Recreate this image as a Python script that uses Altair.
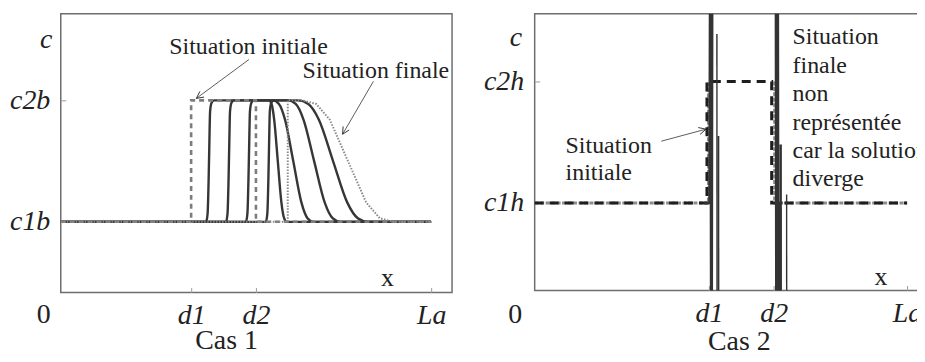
import altair as alt
import pandas as pd

FONT = "Liberation Serif"
INK = "#222222"

# ---------------- Cas 1 ----------------
c1_xtick_values = [0.352, 0.527, 1.0]
c1_xtick_labels = ["d1", "d2", "La"]
c1_ytick_values = [1.0, 2.0]
c1_ytick_labels = ["c1b", "c2b"]
c1_x_domain = [0.0, 1.0565]
c1_y_domain = [0.418, 2.713]

c1_init_x = [0.0, 0.352, 0.352, 0.527, 0.527, 1.0]
c1_init_y = [1.0, 1.0, 2.0, 2.0, 1.0, 1.0]

c1_curve_y = [1.0, 1.0, 1.07, 1.34, 1.66, 1.91, 1.98, 2.0, 2.0, 1.97, 1.84, 1.5, 1.16, 1.03, 1.0, 1.0]
c1_curve1_x = [0.0, 0.3925, 0.3965, 0.3992, 0.4013, 0.4032, 0.4073, 0.4140, 0.5618, 0.5691, 0.5763, 0.5860, 0.5957, 0.6030, 0.6102, 1.0]
c1_curve2_x = [0.0, 0.4462, 0.4503, 0.4530, 0.4551, 0.4570, 0.4610, 0.4677, 0.5726, 0.5891, 0.6056, 0.6277, 0.6497, 0.6662, 0.6828, 1.0]
c1_curve3_x = [0.0, 0.5000, 0.5040, 0.5067, 0.5089, 0.5108, 0.5148, 0.5215, 0.6129, 0.6343, 0.6556, 0.6841, 0.7126, 0.7340, 0.7554, 1.0]
c1_curve4_x = [0.0, 0.5538, 0.5578, 0.5605, 0.5626, 0.5645, 0.5685, 0.5753, 0.6398, 0.6684, 0.6970, 0.7352, 0.7734, 0.8020, 0.8306, 1.0]

c1_final_x = [0.0, 0.6129, 0.6129, 0.6532, 0.6899, 0.7266, 0.7755, 0.8245, 0.8612, 0.8978, 1.0]
c1_final_y = [1.0, 1.0, 2.0, 2.0, 1.97, 1.84, 1.5, 1.16, 1.03, 1.0, 1.0]

c1_text = ["Situation initiale", "Situation finale"]
c1_text_x = [0.293, 0.653]
c1_text_y = [2.443, 2.238]

c1_arrow_x1 = [0.508, 0.844]
c1_arrow_y1 = [2.336, 2.156]
c1_arrow_x2 = [0.366, 0.761]
c1_arrow_y2 = [2.016, 1.721]
c1_arrow_angle = [143.7, 120.3]

c1_axis_letter = ["x"]
c1_axis_letter_x = [0.882]
c1_axis_letter_y = [0.541]
c1_origin = ["0"]
c1_origin_x = [-0.0457]
c1_origin_y = [0.164]

# ---------------- Cas 2 ----------------
c2_xtick_values = [0.468, 0.642, 1.0]
c2_xtick_labels = ["d1", "d2", "La"]
c2_ytick_values = [1.0, 2.0]
c2_ytick_labels = ["c1h", "c2h"]
c2_x_domain = [0.0, 1.048]
c2_y_domain = [0.279, 2.557]

c2_init_x = [0.0, 0.4626, 0.4626, 0.6364, 0.6364, 1.0]
c2_init_y = [1.0, 1.0, 2.0, 2.0, 1.0, 1.0]

c2_gray1_x = [0.0, 0.4666, 0.4666]
c2_gray1_y = [1.0, 1.0, 2.0]
c2_gray2_x = [0.6444, 0.6444, 1.0]
c2_gray2_y = [2.0, 1.0, 1.0]

c2_spike1_x = [0.455, 0.4693, 0.4720, 0.4746, 0.4773, 0.6471, 0.6497, 0.6524, 0.6551, 0.6578, 0.665]
c2_spike1_y = [1.0, 1.0, 4.0, -2.0, 4.0, 4.0, -2.0, 4.0, -2.0, 1.0, 1.0]
c2_spike2_x = [0.4893, 0.4900]
c2_spike2_y = [2.39, -2.0]
c2_spike3_x = [0.4933, 0.4940]
c2_spike3_y = [1.55, -2.0]
c2_spike4_x = [0.6604, 0.6612]
c2_spike4_y = [1.48, -2.0]
c2_spike5_x = [0.6765, 0.6772]
c2_spike5_y = [1.07, -2.0]
c2_spike_widths = [2.5, 1.4, 1.8, 2.5, 1.4]

c2_text = ["Situation", "initiale"]
c2_text_x = [0.083, 0.083]
c2_text_y = [1.467, 1.246]

c2_note = ["Situation", "finale", "non", "représentée", "car la solution", "diverge"]
c2_note_x = [0.6925] * 6
c2_note_y = [2.369, 2.123, 1.893, 1.656, 1.426, 1.197]

c2_arrow_x1 = [0.340]
c2_arrow_y1 = [1.508]
c2_arrow_x2 = [0.460]
c2_arrow_y2 = [1.607]
c2_arrow_angle = [345.1]

c2_axis_letter = ["x"]
c2_axis_letter_x = [0.930]
c2_axis_letter_y = [0.393]
c2_origin = ["0"]
c2_origin_x = [-0.052]
c2_origin_y = [0.008]

ARROW_PATH = "M-1,-0.5L0,0L-1,0.5"


def label_expr(values, labels):
    expr = "''"
    for v, l in reversed(list(zip(values, labels))):
        expr = f"abs(datum.value - {v}) < 1e-6 ? '{l}' : {expr}"
    return expr


def lines_df(series):
    rows = []
    for name, xs, ys, w in series:
        for i, (x, y) in enumerate(zip(xs, ys)):
            rows.append({"s": name, "i": i, "x": x, "y": y, "w": w})
    return pd.DataFrame(rows)


def panel(xvals, xlabels, yvals, ylabels, xdom, ydom, cas, cas_x, cas_y,
          ypad, c_x, c_y):
    xaxis = alt.Axis(
        values=xvals, labelExpr=label_expr(xvals, xlabels),
        labelFont=FONT, labelFontSize=28, labelFontStyle="italic",
        labelColor=INK, labelBaseline="alphabetic", labelPadding=36,
        labelAngle=0, ticks=True, tickSize={"expr": "-5"}, tickColor="#9a9a9a",
        tickWidth=1, domain=False, grid=False,
        title=cas, titleFont=FONT, titleFontSize=28, titleFontWeight="normal",
        titleColor=INK, titleX=cas_x, titleY=cas_y, titleAlign="center",
        titleBaseline="alphabetic",
    )
    yaxis = alt.Axis(
        values=yvals, labelExpr=label_expr(yvals, ylabels),
        labelFont=FONT, labelFontSize=28, labelFontStyle="italic",
        labelColor=INK, labelPadding=ypad, labelBaseline="middle",
        ticks=True, tickSize={"expr": "-5"}, tickColor="#9a9a9a", tickWidth=1,
        domain=False, grid=False,
        title="c", titleFont=FONT, titleFontSize=28, titleFontStyle="italic",
        titleFontWeight="normal", titleColor=INK, titleAngle=0,
        titleAlign="right", titleBaseline="middle", titleX=c_x, titleY=c_y,
    )
    xs = alt.Scale(domain=xdom, nice=False, zero=False)
    ys = alt.Scale(domain=ydom, nice=False, zero=False)

    def X(field="x"):
        return alt.X(f"{field}:Q", scale=xs, axis=xaxis)

    def Y(field="y"):
        return alt.Y(f"{field}:Q", scale=ys, axis=yaxis)

    return X, Y


# ---------------- build Cas 1 ----------------
X1, Y1 = panel(c1_xtick_values, c1_xtick_labels, c1_ytick_values, c1_ytick_labels,
               c1_x_domain, c1_y_domain, "Cas 1", 166, 56, 16, -9, 26)

curves1 = lines_df([
    ("c1", c1_curve1_x, c1_curve_y, 2.2),
    ("c2", c1_curve2_x, c1_curve_y, 2.2),
    ("c3", c1_curve3_x, c1_curve_y, 2.2),
    ("c4", c1_curve4_x, c1_curve_y, 2.2),
])
init1 = lines_df([("init", c1_init_x, c1_init_y, 2.5)])
final1 = lines_df([("final", c1_final_x, c1_final_y, 2.0)])

l_curves = alt.Chart(curves1).mark_line(color="#363636", strokeWidth=2.4, interpolate="monotone").encode(
    x=X1(), y=Y1(), detail="s:N", order="i:Q")
l_init = alt.Chart(init1).mark_line(color="#7d7d7d", strokeWidth=2.6, strokeDash=[5, 4]).encode(
    x=X1(), y=Y1(), order="i:Q")
l_final = alt.Chart(final1).mark_line(color="#8a8a8a", strokeWidth=2.0, strokeDash=[1.5, 1.5]).encode(
    x=X1(), y=Y1(), order="i:Q")

arr1 = pd.DataFrame({"x": c1_arrow_x1, "y": c1_arrow_y1, "x2": c1_arrow_x2,
                     "y2": c1_arrow_y2, "a": c1_arrow_angle})
l_arrow = alt.Chart(arr1).mark_rule(color="#333333", strokeWidth=0.8).encode(
    x=X1(), y=Y1(), x2="x2:Q", y2="y2:Q")
l_head = alt.Chart(arr1).mark_point(shape=ARROW_PATH, filled=False, size=200,
                                    color="#333333", strokeWidth=0.9, opacity=1).encode(
    x=X1("x2"), y=Y1("y2"), angle=alt.Angle("a:Q", scale=None))

txt1 = pd.DataFrame({"x": c1_text_x, "y": c1_text_y, "t": c1_text})
l_txt = alt.Chart(txt1).mark_text(font=FONT, fontSize=24, align="left", baseline="middle",
                                  color=INK).encode(x=X1(), y=Y1(), text="t:N")
let1 = pd.DataFrame({"x": c1_axis_letter_x, "y": c1_axis_letter_y, "t": c1_axis_letter})
l_let = alt.Chart(let1).mark_text(font=FONT, fontSize=26, align="center", baseline="middle",
                                  color=INK).encode(x=X1(), y=Y1(), text="t:N")
org1 = pd.DataFrame({"x": c1_origin_x, "y": c1_origin_y, "t": c1_origin})
l_org = alt.Chart(org1).mark_text(font=FONT, fontSize=28, align="center", baseline="alphabetic",
                                  color=INK).encode(x=X1(), y=Y1(), text="t:N")

left = alt.layer(l_curves, l_init, l_final, l_arrow, l_head, l_txt, l_let, l_org).properties(
    width=393, height=280)

# ---------------- build Cas 2 ----------------
X2, Y2 = panel(c2_xtick_values, c2_xtick_labels, c2_ytick_values, c2_ytick_labels,
               c2_x_domain, c2_y_domain, "Cas 2", 205, 59, 16, -13, 24)

gray2 = lines_df([("g1", c2_gray1_x, c2_gray1_y, 3), ("g2", c2_gray2_x, c2_gray2_y, 3)])
init2 = lines_df([("init", c2_init_x, c2_init_y, 3)])
spikes2 = lines_df([
    ("s1", c2_spike1_x, c2_spike1_y, c2_spike_widths[0]),
    ("s2", c2_spike2_x, c2_spike2_y, c2_spike_widths[1]),
    ("s3", c2_spike3_x, c2_spike3_y, c2_spike_widths[2]),
    ("s4", c2_spike4_x, c2_spike4_y, c2_spike_widths[3]),
    ("s5", c2_spike5_x, c2_spike5_y, c2_spike_widths[4]),
])

r_gray = alt.Chart(gray2).mark_line(color="#8c8c8c", strokeWidth=3, strokeDash=[4, 1.5]).encode(
    x=X2(), y=Y2(), detail="s:N", order="i:Q")
r_init = alt.Chart(init2).mark_line(color="#1e1e1e", strokeWidth=3, strokeDash=[9, 6]).encode(
    x=X2(), y=Y2(), order="i:Q")
r_spk = alt.Chart(spikes2).mark_line(color="#333333", clip=True).encode(
    x=X2(), y=Y2(), detail="s:N", order="i:Q",
    strokeWidth=alt.StrokeWidth("w:Q", scale=None, legend=None))

arr2 = pd.DataFrame({"x": c2_arrow_x1, "y": c2_arrow_y1, "x2": c2_arrow_x2,
                     "y2": c2_arrow_y2, "a": c2_arrow_angle})
r_arrow = alt.Chart(arr2).mark_rule(color="#333333", strokeWidth=0.8).encode(
    x=X2(), y=Y2(), x2="x2:Q", y2="y2:Q")
r_head = alt.Chart(arr2).mark_point(shape=ARROW_PATH, filled=False, size=200,
                                    color="#333333", strokeWidth=0.9, opacity=1).encode(
    x=X2("x2"), y=Y2("y2"), angle=alt.Angle("a:Q", scale=None))

txt2 = pd.DataFrame({"x": c2_text_x, "y": c2_text_y, "t": c2_text})
r_txt = alt.Chart(txt2).mark_text(font=FONT, fontSize=24, align="left", baseline="middle",
                                  color=INK).encode(x=X2(), y=Y2(), text="t:N")
note2 = pd.DataFrame({"x": c2_note_x, "y": c2_note_y, "t": c2_note})
r_note = alt.Chart(note2).mark_text(font=FONT, fontSize=24, align="left", baseline="middle",
                                    color=INK, clip=True).encode(x=X2(), y=Y2(), text="t:N")
let2 = pd.DataFrame({"x": c2_axis_letter_x, "y": c2_axis_letter_y, "t": c2_axis_letter})
r_let = alt.Chart(let2).mark_text(font=FONT, fontSize=26, align="center", baseline="middle",
                                  color=INK).encode(x=X2(), y=Y2(), text="t:N")
org2 = pd.DataFrame({"x": c2_origin_x, "y": c2_origin_y, "t": c2_origin})
r_org = alt.Chart(org2).mark_text(font=FONT, fontSize=28, align="center", baseline="alphabetic",
                                  color=INK).encode(x=X2(), y=Y2(), text="t:N")

right = alt.layer(r_gray, r_init, r_spk, r_arrow, r_head, r_txt, r_note, r_let, r_org).properties(
    width=392, height=278)

chart = alt.hconcat(left, right, spacing=29).properties(
    padding={"left": 0, "top": 4, "right": -9, "bottom": 0},
    background="white",
).configure_view(stroke="#6e6e6e", strokeWidth=1.5)

chart.save("out.html", embed_options={"renderer": "svg", "actions": False})
